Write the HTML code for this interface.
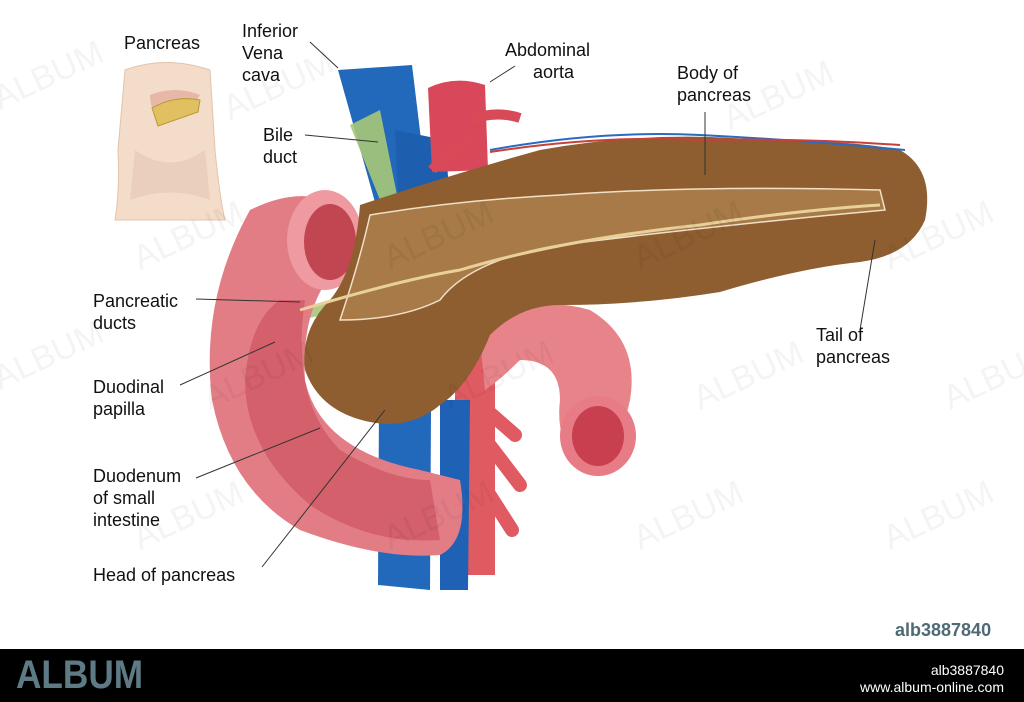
<!DOCTYPE html>
<html><head><meta charset="utf-8"><style>
html,body{margin:0;padding:0;background:#fff;}
body{width:1024px;height:702px;position:relative;overflow:hidden;font-family:"Liberation Sans",sans-serif;}
.l{position:absolute;font-size:18px;color:#111;line-height:22px;}
.bar{position:absolute;left:0;top:649px;width:1024px;height:53px;background:#000;}
</style></head><body>
<svg width="1024" height="702" style="position:absolute;left:0;top:0">
<path d="M125 70 Q165 55 210 70 L215 150 Q220 200 225 220 L115 220 Q120 190 118 150 Z" fill="#f3dcc9" stroke="#e3c3ab"/>
<path d="M150 95 Q175 85 200 95 Q190 115 160 120 Q150 110 150 95Z" fill="#e7b8a8"/>
<path d="M152 108 Q175 95 200 100 L198 112 Q175 120 158 126Z" fill="#e0c060" stroke="#b89a30"/>
<path d="M135 150 Q170 175 205 150 L210 200 Q170 185 130 200Z" fill="#ead0bc"/>
<path d="M338 70 L380 220 L378 585 L430 590 L432 230 L412 65 Z" fill="#2268bb"/>
<path d="M395 130 L445 140 L450 200 L398 195Z" fill="#1e5eae"/>
<path d="M428 88 Q455 75 485 85 L488 170 L432 172 Z" fill="#d8475a"/>
<path d="M470 120 Q495 110 520 118" stroke="#d84a58" stroke-width="10" fill="none"/>
<path d="M470 140 Q445 155 432 170" stroke="#d84a58" stroke-width="10" fill="none"/>
<path d="M455 350 L495 350 L495 575 L455 575Z" fill="#e05a62"/>
<path d="M475 400 L515 435 M478 430 L520 485 M480 480 L512 530" stroke="#e05a62" stroke-width="14" stroke-linecap="round" fill="none"/>
<path d="M440 400 L470 400 L468 590 L440 590Z" fill="#1f62b5"/>
<path d="M350 125 L380 110 L398 200 L392 300 L300 320 L300 310 L375 290 L380 200 Z" fill="#a6c878" opacity="0.9"/>
<path d="M480 340 Q520 290 590 310 Q640 340 630 400 Q620 450 580 470 Q555 440 560 400 Q560 360 520 360 Q500 380 485 390Z" fill="#e7848a"/>
<ellipse cx="598" cy="436" rx="38" ry="40" fill="#e77b86"/>
<ellipse cx="598" cy="436" rx="26" ry="30" fill="#c8404f"/>
<path d="M250 210 Q300 185 340 205 L345 260 Q300 300 305 380 Q320 450 420 470 L460 480 Q470 540 440 555 Q380 560 300 530 Q230 490 212 400 Q200 300 250 210Z" fill="#e27d86"/>
<path d="M305 300 Q290 400 340 450 Q390 480 430 480 L440 540 Q370 545 310 505 Q245 450 245 380 Q250 320 280 300Z" fill="#d3606b"/>
<ellipse cx="325" cy="240" rx="38" ry="50" fill="#ee9aa0"/>
<ellipse cx="330" cy="242" rx="26" ry="38" fill="#c24552"/>
<path d="M360 205 Q450 175 540 150 Q650 130 760 140 Q850 140 900 150 Q935 170 925 220 Q910 255 860 262 Q800 268 720 292 Q640 305 560 305 Q520 305 490 335 Q470 385 440 405 Q410 430 370 422 Q320 412 305 370 Q300 330 330 300 Q355 270 360 205Z" fill="#8e5e30"/>
<path d="M370 215 Q460 200 560 195 Q700 185 880 190 L885 210 Q720 225 560 245 Q470 260 440 300 Q400 320 340 320 Q360 260 370 215Z" fill="#a77a48" stroke="#f0e0c8" stroke-width="1.5"/>
<path d="M300 310 Q400 280 460 270 Q560 240 700 225 Q800 210 880 205" stroke="#e8d09a" stroke-width="3" fill="none"/>
<path d="M490 150 Q600 130 700 135 Q800 140 905 150" stroke="#2a6ac0" stroke-width="2" fill="none"/>
<path d="M490 152 Q600 135 700 140 Q800 138 900 145" stroke="#c8403c" stroke-width="2" fill="none"/>
<g stroke="#333" stroke-width="1" fill="none">
<path d="M310 42 L338 68"/><path d="M490 82 L515 66"/><path d="M705 112 L705 175"/>
<path d="M305 135 L378 142"/><path d="M196 299 L300 302"/><path d="M180 385 L275 342"/>
<path d="M196 478 L320 428"/><path d="M262 567 L385 410"/><path d="M860 330 L875 240"/>
</g>
<g fill="#000" opacity="0.045" font-family="Liberation Sans" font-size="34">
<text transform="translate(0,110) rotate(-25)">ALBUM</text>
<text transform="translate(230,120) rotate(-25)">ALBUM</text>
<text transform="translate(730,130) rotate(-25)">ALBUM</text>
<text transform="translate(140,270) rotate(-25)">ALBUM</text>
<text transform="translate(390,270) rotate(-25)">ALBUM</text>
<text transform="translate(640,270) rotate(-25)">ALBUM</text>
<text transform="translate(890,270) rotate(-25)">ALBUM</text>
<text transform="translate(0,390) rotate(-25)">ALBUM</text>
<text transform="translate(210,410) rotate(-25)">ALBUM</text>
<text transform="translate(450,410) rotate(-25)">ALBUM</text>
<text transform="translate(700,410) rotate(-25)">ALBUM</text>
<text transform="translate(950,410) rotate(-25)">ALBUM</text>
<text transform="translate(140,550) rotate(-25)">ALBUM</text>
<text transform="translate(390,550) rotate(-25)">ALBUM</text>
<text transform="translate(640,550) rotate(-25)">ALBUM</text>
<text transform="translate(890,550) rotate(-25)">ALBUM</text>
</g>
</svg>
<div class="l" style="left:124px;top:32px">Pancreas</div>
<div class="l" style="left:242px;top:20px">Inferior<br>Vena<br>cava</div>
<div class="l" style="left:505px;top:39px">Abdominal<br><span style="padding-left:28px">aorta</span></div>
<div class="l" style="left:677px;top:62px">Body of<br>pancreas</div>
<div class="l" style="left:263px;top:124px">Bile<br>duct</div>
<div class="l" style="left:93px;top:290px">Pancreatic<br>ducts</div>
<div class="l" style="left:93px;top:376px">Duodinal<br>papilla</div>
<div class="l" style="left:93px;top:465px">Duodenum<br>of small<br>intestine</div>
<div class="l" style="left:93px;top:564px">Head of pancreas</div>
<div class="l" style="left:816px;top:324px">Tail of<br>pancreas</div>
<div style="position:absolute;left:895px;top:620px;font-size:18px;font-weight:bold;color:#4f6a75">alb3887840</div>
<div class="bar"></div>
<div style="position:absolute;left:16px;top:653px;font-size:40px;font-weight:bold;color:#5e7a85;transform:scaleX(0.88);transform-origin:left">ALBUM</div>
<div style="position:absolute;right:20px;top:662px;font-size:14px;color:#fff;text-align:right;line-height:17px">alb3887840<br>www.album-online.com</div>
</body></html>
